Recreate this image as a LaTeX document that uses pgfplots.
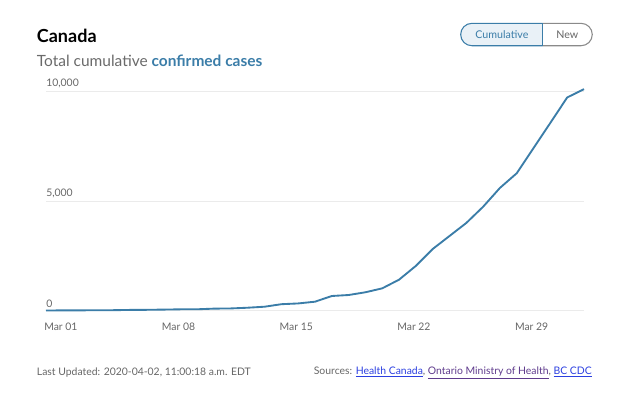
\documentclass[border=0pt]{standalone}
\usepackage{pgfplots}
\pgfplotsset{compat=1.18}
\usepackage{fontspec}
\setmainfont{Lato}
\definecolor{lineblue}{HTML}{3B7DA8}
\definecolor{gridgray}{HTML}{EBEBEB}
\definecolor{tickgray}{HTML}{666666}
\definecolor{subgray}{HTML}{6A6A6A}
\definecolor{btnfill}{HTML}{E9F1F7}
\definecolor{btngray}{HTML}{8A8A8A}
\definecolor{linkblue}{HTML}{2B3FE0}
\definecolor{linkpurple}{HTML}{5E3A8C}
\begin{document}
\begin{tikzpicture}
\path[use as bounding box] (0pt,0pt) rectangle (480pt,-296.25pt);
% title
\node[anchor=west, inner sep=0pt, font=\bfseries\fontsize{13.5}{15}\selectfont, text=black] at (27.5pt,-27pt) {Canada};
\node[anchor=west, inner sep=0pt, font=\fontsize{11.6}{13}\selectfont, text=subgray] at (27.5pt,-45.75pt) {Total cumulative \textcolor{lineblue}{\bfseries confirmed cases}};
% toggle button
\begin{scope}
\clip[rounded corners=8.4pt] (345.5pt,-17.5pt) rectangle (444.2pt,-34.3pt);
\fill[btnfill] (345.5pt,-17.5pt) rectangle (407pt,-34.3pt);
\end{scope}
\begin{scope}
\clip (340pt,-10pt) rectangle (407pt,-40pt);
\draw[lineblue, line width=0.8pt, rounded corners=8.4pt] (345.5pt,-17.5pt) rectangle (444.2pt,-34.3pt);
\end{scope}
\begin{scope}
\clip (407pt,-10pt) rectangle (450pt,-40pt);
\draw[btngray, line width=0.8pt, rounded corners=8.4pt] (345.5pt,-17.5pt) rectangle (444.2pt,-34.3pt);
\end{scope}
\draw[lineblue, line width=0.8pt] (407pt,-17.5pt) -- (407pt,-34.3pt);
\node[font=\fontsize{8}{9}\selectfont, text=lineblue] at (376.4pt,-26pt) {Cumulative};
\node[font=\fontsize{8}{9}\selectfont, text=tickgray] at (425.5pt,-26pt) {New};
% chart
\begin{axis}[
  at={(34.5pt,-233.25pt)}, anchor=south west,
  width=403.5pt, height=164.25pt, scale only axis,
  xmin=0, xmax=32, ymin=0, ymax=10000,
  clip=false,
  axis line style={draw=none},
  major tick length=0pt,
  ytick={0,5000,10000},
  yticklabels={0,{5,000},{10,000}},
  ymajorgrids,
  grid style={color=gridgray, line width=0.75pt},
  xtick={0,7,14,21,28},
  xticklabels={Mar 01,Mar 08,Mar 15,Mar 22,Mar 29},
  yticklabel style={anchor=south west, inner sep=0pt, yshift=2.6pt, xshift=0pt, font=\fontsize{7.8}{9}\selectfont, text=tickgray},
  xticklabel style={anchor=north west, inner sep=0pt, xshift=-1.5pt, yshift=-8.5pt, font=\fontsize{7.8}{9}\selectfont, text=tickgray},
  /pgf/number format/assume math mode=true,
  scaled y ticks=false,
]
\addplot[lineblue, line width=1.4pt, line join=round, mark=none] coordinates {
(0,24) (1,27) (2,30) (3,33) (4,37) (5,49) (6,54) (7,64) (8,77) (9,79)
(10,108) (11,117) (12,150) (13,196) (14,310) (15,345) (16,425) (17,685)
(18,730) (19,855) (20,1035) (21,1430) (22,2060) (23,2830) (24,3425)
(25,4020) (26,4760) (27,5620) (28,6290) (29,7440) (30,8590) (31,9750) (32,10130)
};
\end{axis}
% footer
\node[anchor=west, inner sep=0pt, font=\fontsize{7.8}{9}\selectfont, text=tickgray] at (27.5pt,-279.75pt) {Last Updated: 2020-04-02, 11:00:18 a.m. EDT};
\node[anchor=east, inner sep=0pt, font=\fontsize{7.8}{9}\selectfont, text=tickgray] at (444pt,-279.75pt) {Sources: \textcolor{linkblue}{\underline{Health Canada}}, \textcolor{linkpurple}{\underline{Ontario Ministry of Health}}, \textcolor{linkblue}{\underline{BC CDC}}};
\end{tikzpicture}
\end{document}
